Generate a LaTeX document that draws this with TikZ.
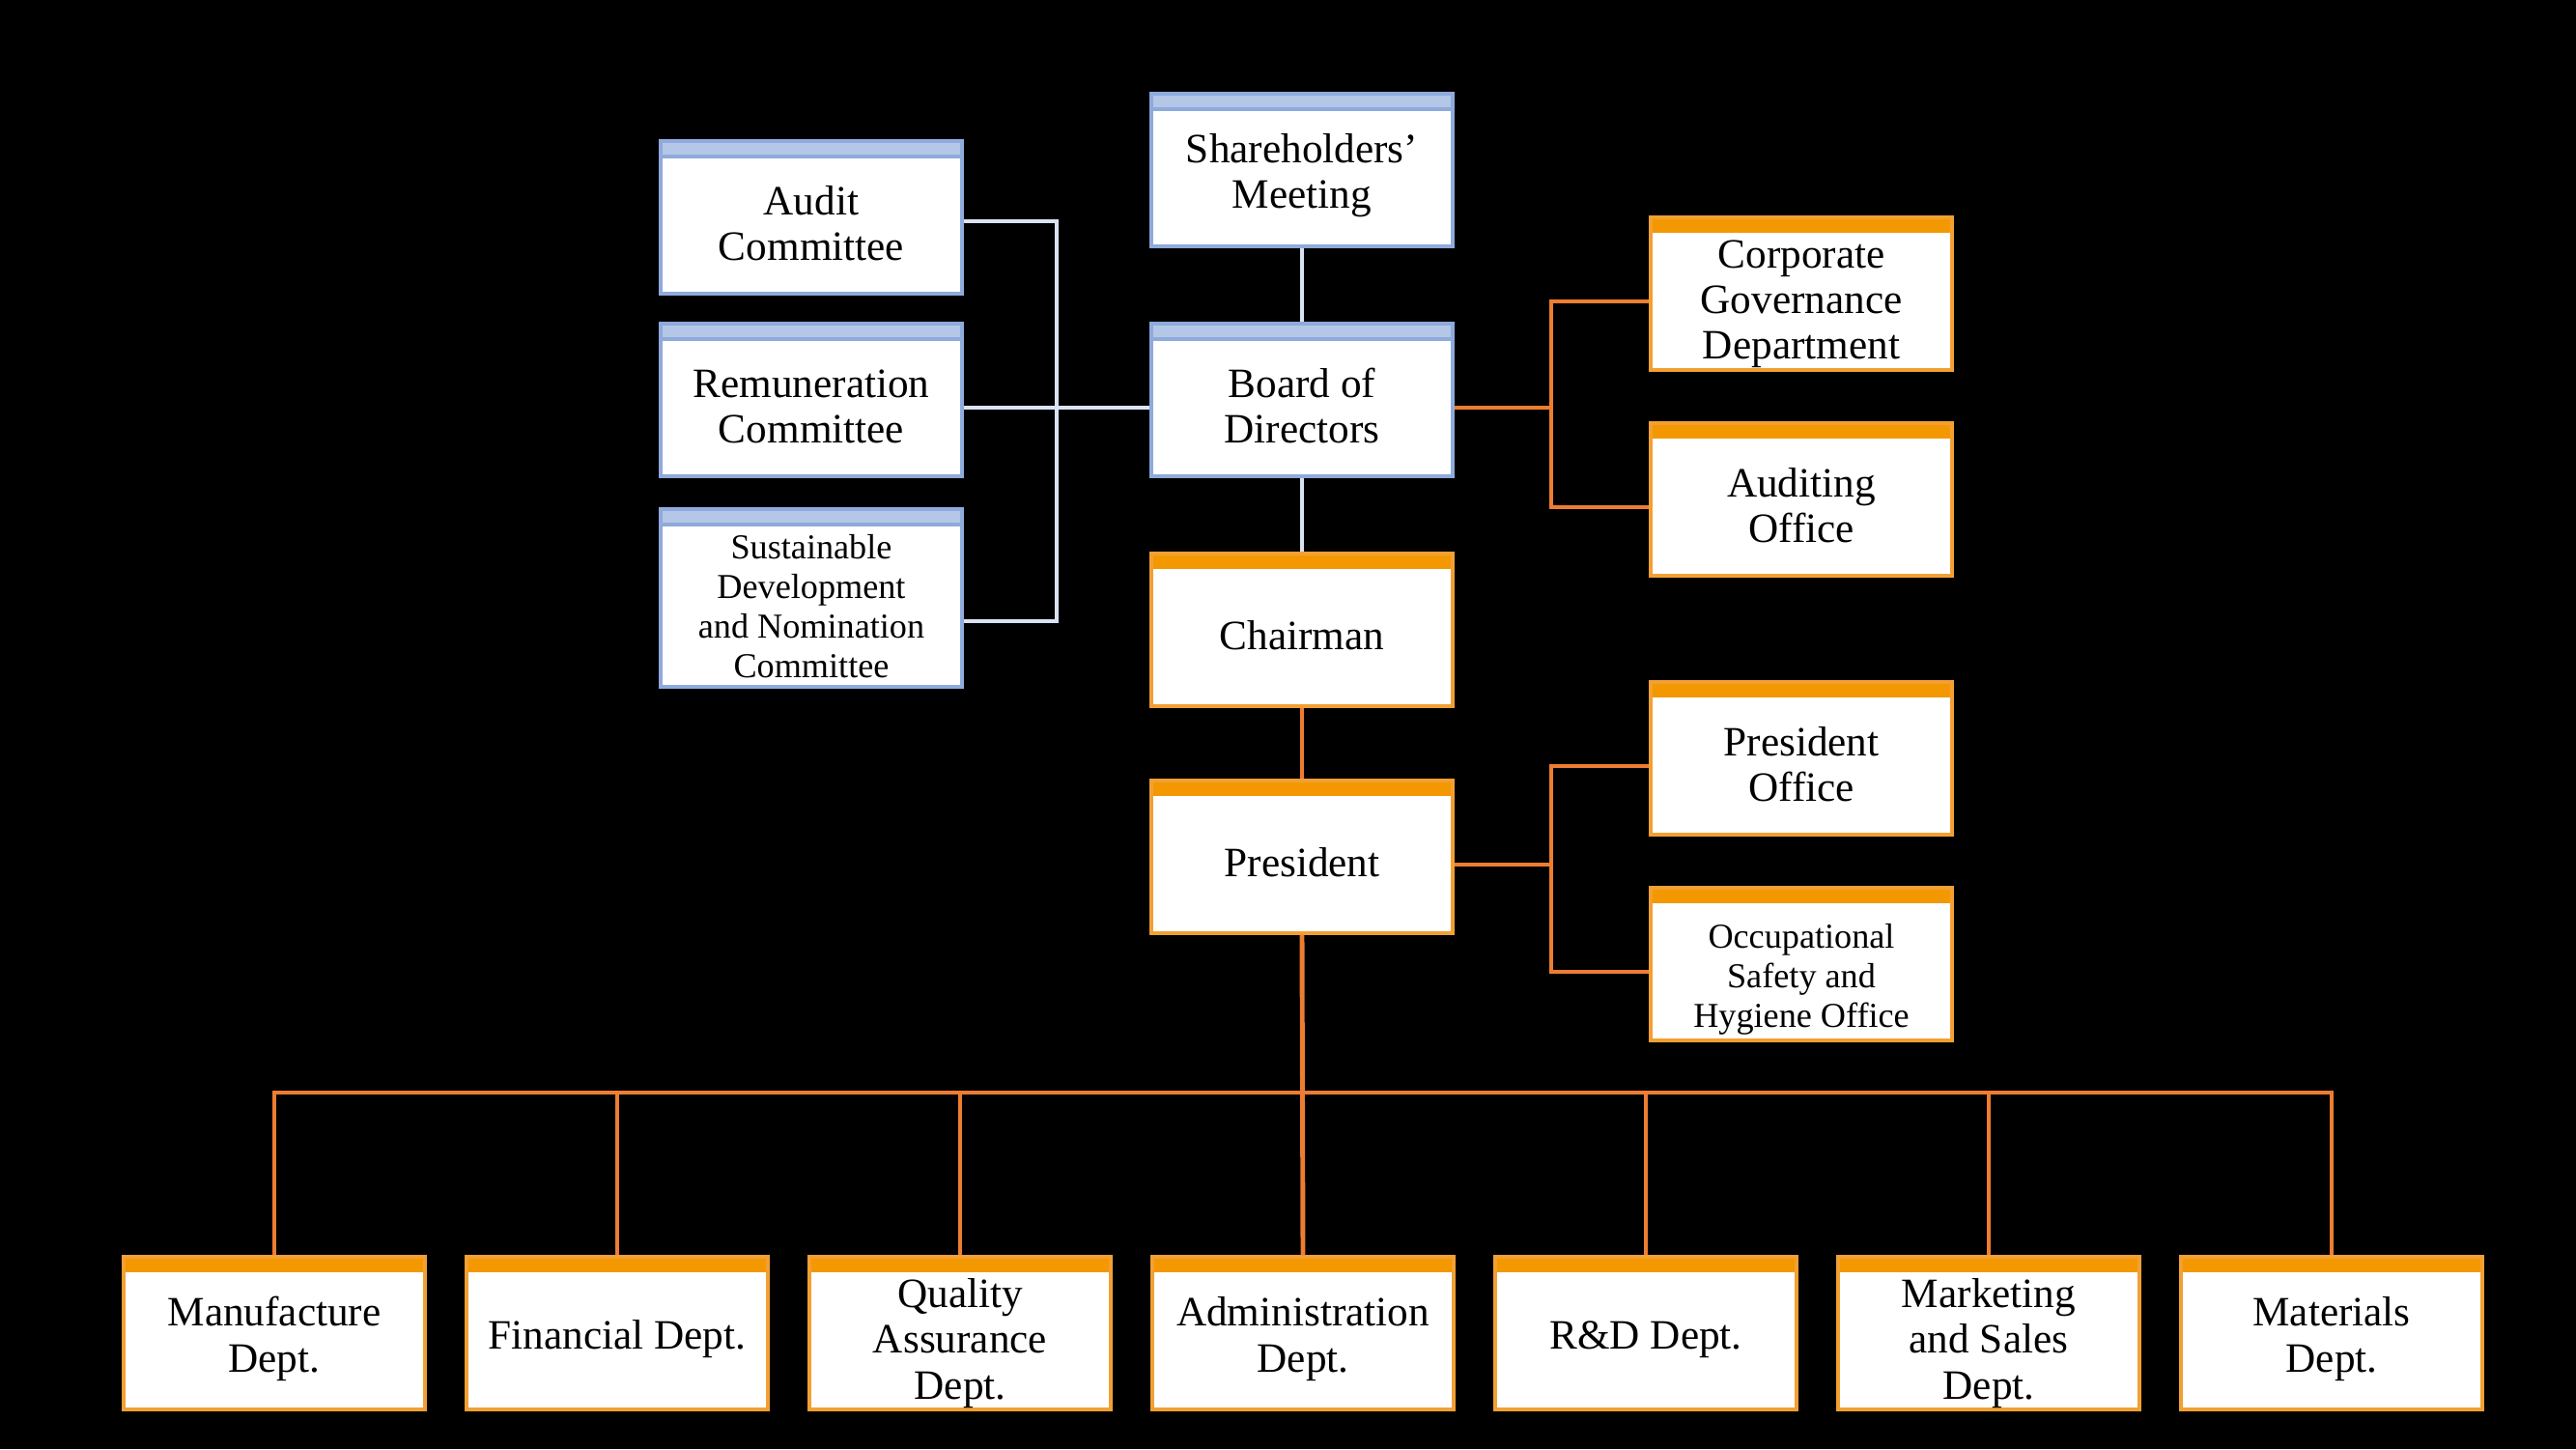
\documentclass[tikz,border=0pt]{standalone}
\usepackage{fontspec}
\setmainfont{Liberation Serif}
\definecolor{blueband}{HTML}{B4C7E7}
\definecolor{blueborder}{HTML}{8FAADC}
\definecolor{lineblue}{HTML}{DAE3F3}
\definecolor{orangeband}{HTML}{F39800}
\definecolor{orangeborder}{HTML}{F2A033}
\definecolor{lineorange}{HTML}{ED7D31}
\newcommand\strutup[1][12pt]{\rule{0pt}{#1}}
\begin{document}
\begin{tikzpicture}[
  box/.style={rectangle, fill=white, line width=0.9pt, minimum width=3.12cm, minimum height=1.58cm,
    align=center, inner xsep=1pt, inner ysep=0pt, font=\fontsize{12.3}{13.4}\selectfont},
  bluebox/.style={box, draw=blueborder, path picture={
    \fill[blueband] (path picture bounding box.north west) rectangle ([yshift=-0.16cm]path picture bounding box.north east);
    \draw[blueborder, line width=0.9pt] ([yshift=-0.16cm]path picture bounding box.north west) -- ([yshift=-0.16cm]path picture bounding box.north east);}},
  orangebox/.style={box, draw=orangeborder, path picture={
    \fill[orangeband] (path picture bounding box.north west) rectangle ([yshift=-0.16cm]path picture bounding box.north east);}},
  small/.style={font=\fontsize{10.3}{11.6}\selectfont},
  blueline/.style={draw=lineblue, line width=1.4pt},
  orangeline/.style={draw=lineorange, line width=1.4pt}]
\fill[black] (0,0) rectangle (26.67,-15);
% governance column
\node[bluebox] (share) at (13.48,-1.76) {\strutup Shareholders’\\Meeting};
\node[bluebox] (board) at (13.48,-4.14) {\strutup Board of\\Directors};
\node[orangebox] (chair) at (13.48,-6.52) {\strutup Chairman};
\node[orangebox] (pres) at (13.48,-8.87) {\strutup President};
% committees
\node[bluebox] (audit) at (8.40,-2.25) {\strutup Audit\\Committee};
\node[bluebox] (remun) at (8.40,-4.14) {\strutup Remuneration\\Committee};
\node[bluebox, small, minimum height=1.84cm] (sust) at (8.40,-6.19) {\strutup Sustainable\\Development\\and Nomination\\Committee};
% staff offices
\node[orangebox] (cgd) at (18.65,-3.04) {\strutup[14.5pt]Corporate\\Governance\\Department};
\node[orangebox] (aud) at (18.65,-5.17) {\strutup Auditing\\Office};
\node[orangebox] (poff) at (18.65,-7.85) {\strutup President\\Office};
\node[orangebox, small] (osh) at (18.65,-9.98) {\strutup[16pt]Occupational\\Safety and\\Hygiene Office};
% departments
\foreach \name/\txt [count=\i from 0] in {manu/{\strutup Manufacture\\Dept.}, fin/{\strutup Financial Dept.},
    qa/{\strutup[14.5pt]Quality\\Assurance\\Dept.}, admin/{\strutup Administration\\Dept.}, rd/{\strutup R\&D Dept.},
    mkt/{\strutup[14.5pt]Marketing\\and Sales\\Dept.}, mat/{\strutup Materials\\Dept.}}
  \node[orangebox] (\name) at (2.84+3.55*\i,-13.80) {\txt};
\coordinate (lbus) at (10.94,0);
\coordinate (rbus) at (16.06,0);
\coordinate (bbus) at (0,-11.31);
% connectors
\draw[blueline] (share) -- (board);
\draw[blueline] (board) -- (chair);
\draw[blueline] ([yshift=-0.04cm]audit.east) -| ([yshift=-0.24cm]lbus |- sust.east) -- ([yshift=-0.24cm]sust.east);
\draw[blueline] ([yshift=-0.08cm]remun.east) -- ([yshift=-0.08cm]board.west);
\draw[orangeline] (chair) -- (pres);
\draw[orangeline] ([yshift=-0.08cm]board.east) -- ([yshift=-0.08cm]rbus |- board.east);
\draw[orangeline] ([yshift=-0.08cm]cgd.west) -| ([yshift=-0.08cm]rbus |- aud.west) -- ([yshift=-0.08cm]aud.west);
\draw[orangeline] ([yshift=-0.08cm]pres.east) -- ([yshift=-0.08cm]rbus |- pres.east);
\draw[orangeline] ([yshift=-0.08cm]poff.west) -| ([yshift=-0.08cm]rbus |- osh.west) -- ([yshift=-0.08cm]osh.west);
\draw[orangeline] (pres.south) -- (admin.north);
\draw[orangeline] (manu.north) |- (mat.north |- bbus) -- (mat.north);
\foreach \name in {fin,qa,rd,mkt}
  \draw[orangeline] (\name.north) -- (\name.north |- bbus);
\end{tikzpicture}
\end{document}
